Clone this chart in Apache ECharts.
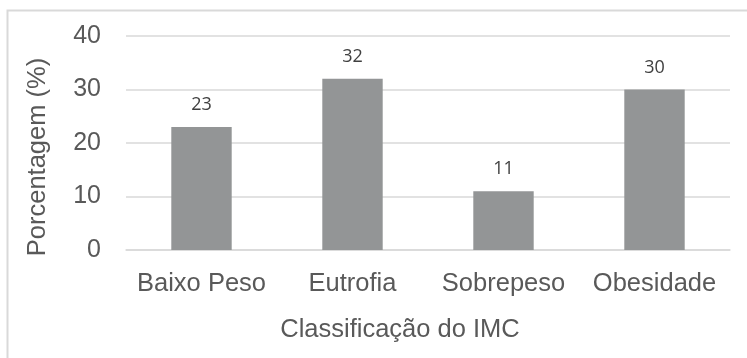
<!DOCTYPE html>
<html>
<head>
<meta charset="utf-8">
<style>
  html, body { margin: 0; padding: 0; background: #ffffff; }
  #chart { width: 747px; height: 358px; }
</style>
<script src="https://cdn.jsdelivr.net/npm/echarts@6/dist/echarts.min.js"></script>
</head>
<body>
<div id="chart"></div>
<script>
// BMI classification distribution (%)
const categories = ['Baixo Peso', 'Eutrofia', 'Sobrepeso', 'Obesidade'];
const percentages = [23, 32, 11, 30];
const yTicks = { min: 0, max: 40, interval: 10 };

const sansFont = 'Liberation Sans, Arial, sans-serif';

const chart = echarts.init(document.getElementById('chart'), null, { renderer: 'canvas' });

chart.setOption({
  backgroundColor: '#ffffff',
  animation: false,
  graphic: [{
    type: 'rect',
    shape: { x: 7.5, y: 10.5, width: 800, height: 400 },
    style: { fill: 'none', stroke: '#d9d9d9', lineWidth: 2 },
    silent: true
  }],
  grid: { left: 126, right: 17, top: 36, bottom: 108 },
  xAxis: {
    type: 'category',
    data: categories,
    name: 'Classificação do IMC',
    nameLocation: 'middle',
    nameGap: 67,
    // extra right padding nudges the title a little left of the plot centre
    nameTextStyle: { color: '#595959', fontSize: 25.5, fontFamily: sansFont, padding: [0, 56, 0, 0] },
    axisLine: { show: true, lineStyle: { color: '#d9d9d9', width: 1.5 } },
    axisTick: { show: false },
    axisLabel: {
      interval: 0,
      hideOverlap: false,
      color: '#595959',
      fontSize: 25.5,
      margin: 21,
      fontFamily: sansFont
    }
  },
  yAxis: {
    type: 'value',
    min: yTicks.min,
    max: yTicks.max,
    interval: yTicks.interval,
    name: 'Porcentagem (%)',
    nameLocation: 'middle',
    nameGap: 75,
    // right padding shifts the rotated title slightly downward
    nameTextStyle: { color: '#595959', fontSize: 25.5, fontFamily: sansFont, padding: [0, 28, 0, 0] },
    axisLine: { show: false },
    axisTick: { show: false },
    axisLabel: { color: '#595959', fontSize: 25, margin: 25, fontFamily: sansFont },
    splitLine: { lineStyle: { color: '#d9d9d9', width: 1.5 } }
  },
  series: [{
    type: 'bar',
    data: percentages,
    barWidth: '40%',
    itemStyle: { color: '#939596' },
    label: {
      show: true,
      position: 'top',
      distance: 13,
      color: '#404040',
      fontSize: 18,
      fontFamily: 'Open Sans, Noto Sans, sans-serif'
    }
  }]
});
</script>
</body>
</html>
